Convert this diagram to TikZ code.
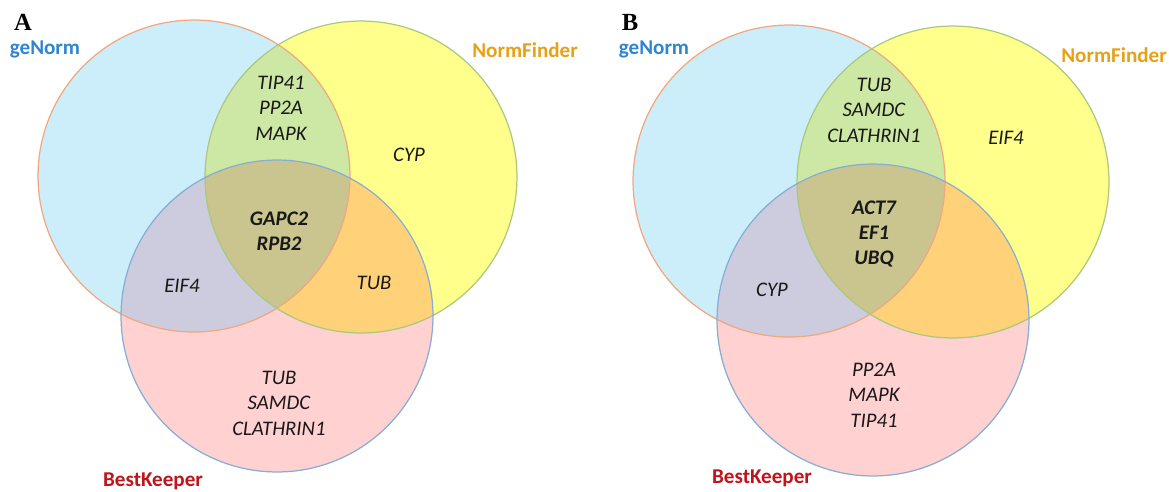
\documentclass[tikz,border=0pt]{standalone}
\usepackage{fontspec}
\setmainfont{Carlito}
\newfontfamily\panelfont{Liberation Serif}
\usetikzlibrary{positioning}
\definecolor{GeBlue}{RGB}{204,238,250}
\definecolor{NfYellow}{RGB}{255,255,140}
\definecolor{BkPink}{RGB}{255,209,209}
\definecolor{GnGreen}{RGB}{204,232,164}
\definecolor{GkGrey}{RGB}{204,204,222}
\definecolor{NkOrange}{RGB}{255,210,122}
\definecolor{AllOlive}{RGB}{202,196,142}
\definecolor{GeLine}{RGB}{242,167,126}
\definecolor{NfLine}{RGB}{169,201,127}
\definecolor{BkLine}{RGB}{134,174,212}
\definecolor{GeText}{RGB}{46,134,208}
\definecolor{NfText}{RGB}{230,161,23}
\definecolor{BkText}{RGB}{192,20,28}
\tikzset{
  gene/.style={font=\fontsize{11.8}{14.5}\selectfont\itshape,align=center,
    text=black!90,inner sep=0pt},
  coregene/.style={gene,font=\fontsize{11.8}{14.5}\selectfont\bfseries\itshape},
  toolname/.style={font=\fontsize{12}{14}\selectfont\bfseries,inner sep=0pt},
  panelname/.style={font=\fontsize{14}{14}\selectfont\panelfont\bfseries,inner sep=0pt},
  ring/.style={line width=0.7pt}
}
\def\vr{3.12cm}
% fills the seven regions of one diagram, #1 #2 #3 = geNorm, NormFinder, BestKeeper
\newcommand{\vennfill}[3]{%
  \fill[GeBlue] (#1) circle[radius=\vr];
  \fill[NfYellow] (#2) circle[radius=\vr];
  \fill[BkPink] (#3) circle[radius=\vr];
  \begin{scope}
    \clip (#2) circle[radius=\vr];
    \fill[NkOrange] (#3) circle[radius=\vr];
  \end{scope}
  \begin{scope}
    \clip (#1) circle[radius=\vr];
    \fill[GnGreen] (#2) circle[radius=\vr];
    \fill[GkGrey] (#3) circle[radius=\vr];
    \clip (#2) circle[radius=\vr];
    \fill[AllOlive] (#3) circle[radius=\vr];
  \end{scope}
  \draw[ring,GeLine] (#1) circle[radius=\vr];
  \draw[ring,NfLine] (#2) circle[radius=\vr];
  \draw[ring,BkLine] (#3) circle[radius=\vr];
}

\begin{document}
\begin{tikzpicture}[x=0.02cm,y=-0.02cm]
  \useasboundingbox (0,0) rectangle (1169,491);

  % panel A
  \coordinate (gA) at (194,176);
  \coordinate (nA) at (361,177);
  \coordinate (kA) at (277,316);
  \vennfill{gA}{nA}{kA}
  \node[panelname] (labA) at (23,22) {A};
  \node[toolname,text=GeText] (geA) at (45,49) {geNorm};
  \node[toolname,text=NfText] (nfA) at (525,50) {NormFinder};
  \node[toolname,text=BkText] (bkA) at (153,481) {BestKeeper};
  \node[gene] (gnA) at (281,108) {TIP41\\PP2A\\MAPK};
  \node[gene] (onlynA) at (409,155) {CYP};
  \node[coregene] (allA) at (279,231) {GAPC2\\RPB2};
  \node[gene] (gkA) at (182,286) {EIF4};
  \node[gene] (nkA) at (374,283) {TUB};
  \node[gene] (onlykA) at (279,403) {TUB\\SAMDC\\CLATHRIN1};

  % panel B
  \coordinate (gB) at (789,181);
  \coordinate (nB) at (953,182);
  \coordinate (kB) at (873,320);
  \vennfill{gB}{nB}{kB}
  \node[panelname] (labB) at (630,22) {B};
  \node[toolname,text=GeText] (geB) at (654,49) {geNorm};
  \node[toolname,text=NfText] (nfB) at (1114,55) {NormFinder};
  \node[toolname,text=BkText] (bkB) at (762,478) {BestKeeper};
  \node[gene] (gnB) at (874,110) {TUB\\SAMDC\\CLATHRIN1};
  \node[gene] (onlynB) at (1006,138) {EIF4};
  \node[coregene] (allB) at (874,234) {ACT7\\EF1\\UBQ};
  \node[gene] (gkB) at (772,290) {CYP};
  \node[gene] (onlykB) at (874,395) {PP2A\\MAPK\\TIP41};
\end{tikzpicture}
\end{document}
